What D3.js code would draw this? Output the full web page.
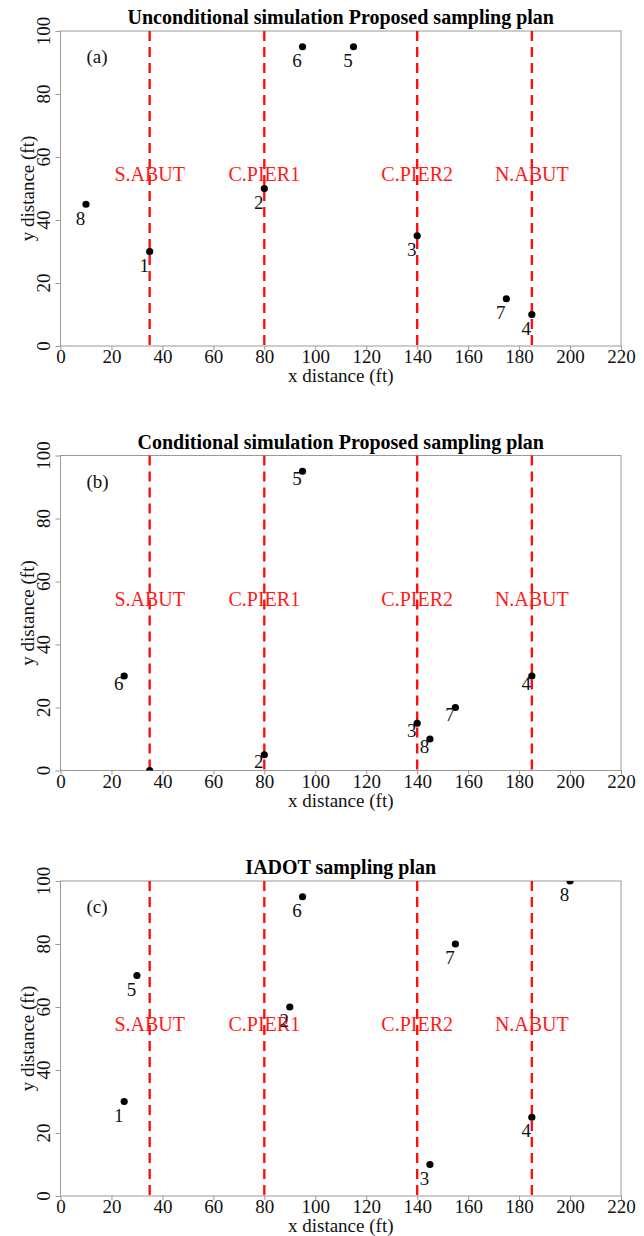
<!DOCTYPE html>
<html>
<head>
<meta charset="utf-8">
<script src="https://cdn.jsdelivr.net/npm/d3@7"></script>
<style>
  body { margin: 0; background: #fff; }
  svg text { font-family: "Liberation Serif", "Times New Roman", serif; }
</style>
</head>
<body>
<div id="chart"></div>
<script>
// panels, in drawing order
var titles = ["Unconditional simulation Proposed sampling plan",
              "Conditional simulation Proposed sampling plan",
              "IADOT sampling plan"];
var panelTags = ["(a)", "(b)", "(c)"];

// sample point numbers and coordinates (ft)
var pointIds = [1, 2, 3, 4, 5, 6, 7, 8];
var xA = [35, 80, 140, 185, 115, 95, 175, 10],
    yA = [30, 50, 35, 10, 95, 95, 15, 45];
var xB = [35, 80, 140, 185, 95, 25, 155, 145],
    yB = [0, 5, 15, 30, 95, 30, 20, 10];
var xC = [25, 90, 145, 185, 30, 95, 155, 200],
    yC = [30, 60, 10, 25, 70, 95, 80, 100];

// bridge supports
var supportNames = ["S.ABUT", "C.PIER1", "C.PIER2", "N.ABUT"];
var supportX = [35, 80, 140, 185];
var supportLabelY = 54.5;

var xTicks = [0, 20, 40, 60, 80, 100, 120, 140, 160, 180, 200, 220];
var yTicks = [0, 20, 40, 60, 80, 100];

var W = 644, H = 1236;
var left = 60.5, right = 621;
var tops = [31, 455.5, 881],
    ph = 315;
var labelDy = [14, 7, 13.5];

var svg = d3.select("#chart").append("svg")
    .attr("width", W)
    .attr("height", H);

var x = d3.scaleLinear().domain([0, 220]).range([0, right - left]);
var y = d3.scaleLinear().domain([0, 100]).range([ph, 0]);

var series = [[xA, yA], [xB, yB], [xC, yC]];

series.forEach(function(s, k) {
    var g = svg.append("g")
        .attr("transform", "translate(" + left + "," + tops[k] + ")");

    var clipId = "clip" + k;
    g.append("clipPath").attr("id", clipId)
      .append("rect")
        .attr("x", 0).attr("y", 0)
        .attr("width", x.range()[1]).attr("height", ph);

    // title
    g.append("text")
        .attr("x", x.range()[1] / 2)
        .attr("y", -7)
        .attr("text-anchor", "middle")
        .style("font-weight", "bold")
        .style("font-size", "20px")
        .text(titles[k]);

    // box
    g.append("rect")
        .attr("x", 0).attr("y", 0)
        .attr("width", x.range()[1]).attr("height", ph)
        .style("fill", "none")
        .style("stroke", "#999")
        .style("stroke-width", 1);

    // x axis
    var xa = g.append("g")
        .attr("transform", "translate(0," + ph + ")")
        .call(d3.axisBottom(x).tickValues(xTicks).tickSize(4).tickPadding(0));
    xa.select(".domain").remove();
    xa.selectAll("line").style("stroke", "#999");
    xa.selectAll("text")
        .style("font-size", "19px")
        .style("font-family", "'Liberation Serif', serif")
        .attr("fill", "#111");

    // y axis
    var ya = g.append("g")
        .call(d3.axisLeft(y).tickValues(yTicks).tickSize(5).tickFormat(""));
    ya.select(".domain").remove();
    ya.selectAll("line").style("stroke", "#999");
    g.selectAll(".ytl")
        .data(yTicks)
        .enter()
        .append("text")
        .attr("class", "ytl")
        .attr("transform", function(d) { return "translate(-11," + y(d) + ") rotate(-90)"; })
        .attr("text-anchor", "middle")
        .style("font-size", "19px")
        .attr("fill", "#111")
        .text(function(d) { return d; });

    // axis titles
    g.append("text")
        .attr("x", x.range()[1] / 2)
        .attr("y", ph + 36)
        .attr("text-anchor", "middle")
        .style("font-size", "19px")
        .attr("fill", "#111")
        .text("x distance (ft)");
    g.append("text")
        .attr("transform", "translate(-27," + (ph / 2) + ") rotate(-90)")
        .attr("text-anchor", "middle")
        .style("font-size", "19px")
        .attr("fill", "#111")
        .text("y distance (ft)");

    // panel tag
    g.append("text")
        .attr("x", 26)
        .attr("y", 32)
        .style("font-size", "19px")
        .attr("fill", "#111")
        .text(panelTags[k]);

    // support lines
    g.selectAll(".sup")
        .data(supportX)
        .enter()
        .append("line")
        .attr("class", "sup")
        .attr("x1", function(d) { return x(d); })
        .attr("x2", function(d) { return x(d); })
        .attr("y1", y(100))
        .attr("y2", y(0))
        .style("stroke", "#ff1010")
        .style("stroke-width", 2.4)
        .style("stroke-dasharray", "10,6");

    g.selectAll(".supl")
        .data(supportX)
        .enter()
        .append("text")
        .attr("class", "supl")
        .attr("x", function(d) { return x(d); })
        .attr("y", y(supportLabelY))
        .attr("dy", "0.35em")
        .attr("text-anchor", "middle")
        .style("font-size", "20px")
        .attr("fill", "#ff1a1a")
        .text(function(d, i) { return supportNames[i]; });

    // points and numbers
    var pg = g.append("g").attr("clip-path", "url(#" + clipId + ")");
    var pts = pointIds.map(function(id, i) { return { id: id, x: s[0][i], y: s[1][i] }; });

    pg.selectAll("circle")
        .data(pts)
        .enter()
        .append("circle")
        .attr("cx", function(d) { return x(d.x); })
        .attr("cy", function(d) { return y(d.y); })
        .attr("r", 3.6)
        .style("fill", "#000");

    pg.selectAll(".num")
        .data(pts)
        .enter()
        .append("text")
        .attr("class", "num")
        .attr("x", function(d) { return x(d.x) - 5.5; })
        .attr("y", function(d) { return y(d.y) + labelDy[k]; })
        .attr("dy", "0.35em")
        .attr("text-anchor", "middle")
        .style("font-size", "19px")
        .attr("fill", "#111")
        .text(function(d) { return d.id; });
});
</script>
</body>
</html>
